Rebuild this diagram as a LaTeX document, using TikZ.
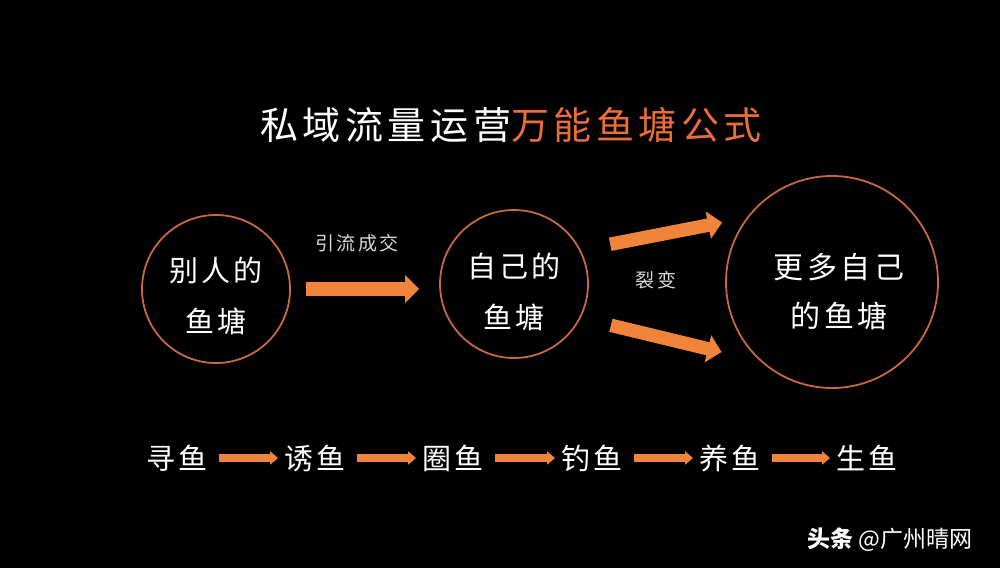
\documentclass[tikz,border=0pt]{standalone}
\usepackage{fontspec}
\setmainfont{Noto Sans CJK SC}
\newfontfamily\spaced[LetterSpace=12]{Noto Sans CJK SC}
\usetikzlibrary{arrows.meta}
\definecolor{fishorange}{HTML}{F0843A}
\definecolor{pondring}{HTML}{C8683F}
\definecolor{titleorange}{HTML}{EA6E3C}
\begin{document}
\begin{tikzpicture}[x=1pt,y=-1pt,
  pond/.style={circle,draw=pondring,line width=1.8pt,inner sep=0pt},
  pondtext/.style={text=white,align=center,inner sep=0pt,font=\spaced\fontsize{29}{51}\selectfont},
  steptext/.style={text=white,inner sep=0pt,font=\spaced\fontsize{29}{34}\selectfont},
  smalltext/.style={text=white!85!black,inner sep=0pt,font=\spaced\fontsize{19}{22}\selectfont},
  fatarrow/.style={draw=fishorange,line width=13.5pt,-{Triangle[width=27pt,length=14pt]}},
  thinarrow/.style={draw=fishorange,line width=8pt,-{Triangle[width=13pt,length=8pt]},shorten <=11pt,shorten >=6pt}]
\fill[black] (0,0) rectangle (1000,568);
\useasboundingbox (0,0) rectangle (1000,568);

\node[text=white,inner sep=0pt,font=\spaced\fontsize{38}{44}\selectfont] (title) at (511,125)
  {私域流量运营\textcolor{titleorange}{万能鱼塘公式}};

\node[pond,minimum size=148pt] (c1) at (216,289) {};
\node[pondtext] (t1) at (216,296) {别人的\\鱼塘};

\node[pond,minimum size=148pt] (c2) at (514,284) {};
\node[pondtext] (t2) at (514,292) {自己的\\鱼塘};

\node[pond,minimum size=212pt] (c3) at (832,282) {};
\node[pondtext,font=\spaced\fontsize{30}{49}\selectfont] (t3) at (839,292) {更多自己\\的鱼塘};

\draw[fatarrow,shorten <=15pt,shorten >=20pt] (c1.east) -- (c2.west |- c1.east);
\node[smalltext] (yin) at (357,243) {引流成交};

\draw[fatarrow,shorten <=30pt,shorten >=25pt] (c2.27) -- (c3.143);
\draw[fatarrow,shorten <=31pt,shorten >=40pt] (c2.-27) -- (c3.228);
\node[smalltext] (lie) at (656,280) {裂变};

\node[steptext] (s1) at (177,458) {寻鱼};
\node[steptext] (s2) at (315,458) {诱鱼};
\node[steptext] (s3) at (453,458) {圈鱼};
\node[steptext] (s4) at (592,458) {钓鱼};
\node[steptext] (s5) at (730,458) {养鱼};
\node[steptext] (s6) at (867,458) {生鱼};

\draw[thinarrow] (s1) -- (s2);
\draw[thinarrow] (s2) -- (s3);
\draw[thinarrow] (s3) -- (s4);
\draw[thinarrow] (s4) -- (s5);
\draw[thinarrow] (s5) -- (s6);

\node[text=white,inner sep=0pt,font=\fontsize{23}{26}\selectfont] (mark) at (890,540) {\textbf{头条} @广州晴网};
\end{tikzpicture}
\end{document}
